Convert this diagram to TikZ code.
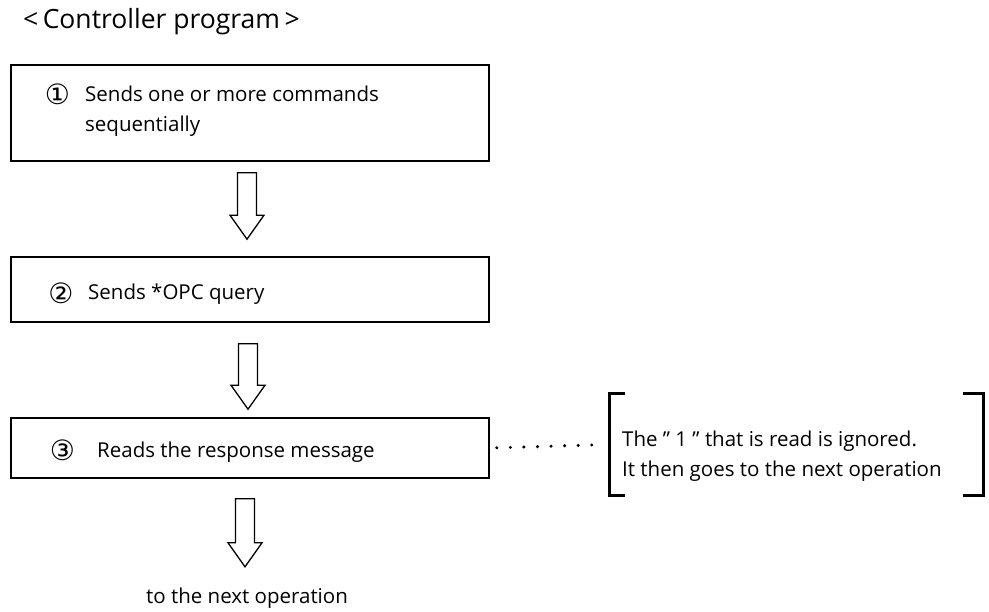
\documentclass[tikz,border=0pt]{standalone}
\usepackage{fontspec}
\setmainfont{Open Sans}
\newfontfamily\circfont{DejaVu Sans}
\usetikzlibrary{positioning,calc}

% hollow down arrow between two named points
\newcommand{\blockarrow}[2]{%
  \draw[hollow] ($(#1)+(-9.5,0)$) -- ($(#2)+(-9.5,-24)$) -- ($(#2)+(-17,-24)$) -- (#2)
    -- ($(#2)+(17,-24)$) -- ($(#2)+(9.5,-24)$) -- ($(#1)+(9.5,0)$) -- cycle;}

\begin{document}
\begin{tikzpicture}[x=1pt, y=-1pt,
    stepbox/.style={rectangle, draw=black, line width=1.6pt, minimum width=478pt, inner sep=0pt},
    steptext/.style={anchor=base west, inner sep=0pt, font=\fontsize{20.5}{30}\selectfont},
    numlabel/.style={inner sep=0pt, font=\circfont\fontsize{28}{28}\selectfont},
    hollow/.style={draw=black, line width=1.3pt, fill=white, line join=miter},
    notebox/.style={rectangle, minimum width=373pt, minimum height=101pt, inner sep=0pt},
    bracket/.style={draw=black, line width=3pt},
    leader/.style={draw=black, line width=3.4pt, line cap=round, dash pattern=on 0pt off 13.57pt}
]
\useasboundingbox (0,0) rectangle (989,612);

% Title
\node[anchor=base west, inner sep=0pt, font=\fontsize{26.5}{30}\selectfont] (title) at (23,29) {<\,Controller program\,>};

% Step 1
\node[stepbox, minimum height=96pt] (send) at (250,113) {};
\node[numlabel] (n1) at (57.5,94) {①};
\node[steptext] (t1a) at (85,102) {Sends one or more commands};
\node[steptext] (t1b) at (85,132) {sequentially};

% Step 2
\node[stepbox, minimum height=65pt] (query) at (250,289.5) {};
\node[numlabel] (n2) at (61,293) {②};
\node[steptext] (t2) at (88,300) {Sends *OPC query};

% Step 3
\node[stepbox, minimum height=60pt] (read) at (250,448) {};
\node[numlabel] (n3) at (62.5,450) {③};
\node[steptext] (t3) at (97,457) {Reads the response message};

% Final text
\node[anchor=base, inner sep=0pt, font=\fontsize{20.5}{30}\selectfont] (next) at (247,603) {to the next operation};

% Block arrows
\coordinate (a1top) at ($(send.south)+(-3,11)$);
\coordinate (a1tip) at ($(query.north)+(-3,-17)$);
\coordinate (a2top) at ($(query.south)+(-2,21)$);
\coordinate (a2tip) at ($(read.north)+(-2,-8)$);
\coordinate (a3top) at ($(read.south)+(-5,20)$);
\coordinate (a3tip) at ($(read.south)+(-5,88)$);
\blockarrow{a1top}{a1tip}
\blockarrow{a2top}{a2tip}
\blockarrow{a3top}{a3tip}

% Note in brackets
\node[notebox] (note) at (796.5,444.5) {};
\node[steptext] (n3a) at (622,447) {The ” 1 ” that is read is ignored.};
\node[steptext] (n3b) at (622,477) {It then goes to the next operation};
\draw[bracket] ([xshift=15pt]note.north west) -- (note.north west) -- (note.south west) -- ([xshift=15pt]note.south west);
\draw[bracket] ([xshift=-20pt]note.north east) -- (note.north east) -- (note.south east) -- ([xshift=-20pt]note.south east);

% Leader dots
\draw[leader, shorten <=7pt, shorten >=18pt] (read.east) -- (note.west);

\end{tikzpicture}
\end{document}
